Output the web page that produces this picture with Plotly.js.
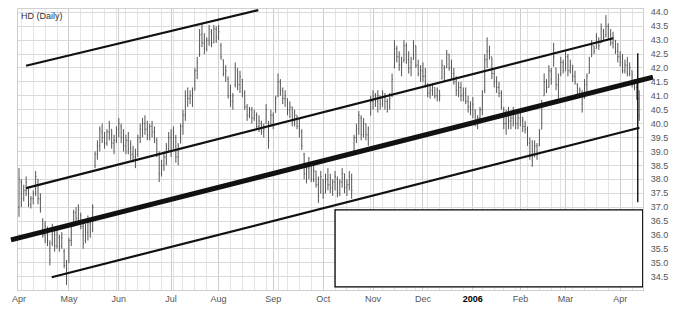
<!DOCTYPE html>
<html><head><meta charset="utf-8">
<script src="https://cdn.plot.ly/plotly-3.0.1.min.js"></script>
<style>html,body{margin:0;padding:0;background:#fff}#chart{width:682px;height:314px}</style>
</head><body><div id="chart"></div>
<script>
const startDate = '2005-04-01';
const holidays = ['2005-05-30','2005-07-04','2005-09-05','2005-11-24','2005-12-26','2006-01-02','2006-01-16','2006-02-20','2006-04-14'];
const monthLabels = ['Apr','May','Jun','Jul','Aug','Sep','Oct','Nov','Dec','<span style="color:#000"><b>2006</b></span>','Feb','Mar','Apr'];
const yTicks = [34.5,35.0,35.5,36.0,36.5,37.0,37.5,38.0,38.5,39.0,39.5,40.0,40.5,41.0,41.5,42.0,42.5,43.0,43.5,44.0];

const openP = [
37.0,37.9,37.3,37.6,37.6,37.1,37.3,37.5,38.0,37.3,
36.5,36.0,36.2,35.7,35.7,36.1,35.6,35.9,35.6,35.4,
34.9,35.0,35.8,36.3,36.8,36.6,36.7,36.3,35.8,36.1,
36.4,36.2,38.5,38.9,39.2,39.7,39.5,39.3,39.7,39.8,
39.3,39.4,39.8,39.9,39.5,39.2,39.4,39.1,38.9,38.8,
38.9,39.5,39.8,40.0,39.8,39.6,39.9,39.7,39.4,38.9,
38.2,38.5,38.8,39.1,39.5,39.1,39.5,38.8,39.3,39.9,
40.3,41.0,40.9,41.0,41.2,41.9,42.5,43.2,42.9,42.7,
43.0,43.3,42.9,43.4,43.1,42.8,42.3,41.8,41.6,41.0,
40.8,41.4,41.9,41.4,41.6,41.1,40.6,40.3,40.5,40.2,
40.3,39.9,40.0,39.7,40.0,40.0,39.9,40.3,40.4,41.0,
41.5,41.2,40.9,40.9,40.5,40.6,40.1,40.3,39.9,39.7,
38.9,38.2,38.4,38.5,38.0,38.3,37.8,37.5,38.0,37.5,
38.0,37.8,37.7,37.9,38.0,37.5,37.9,38.2,37.7,37.8,
38.0,39.0,39.5,39.8,40.2,39.6,40.0,39.6,40.3,40.8,
41.0,40.8,41.0,40.7,41.0,40.8,40.6,41.0,42.0,42.7,
42.4,42.1,42.3,42.8,42.3,42.0,42.3,42.8,42.1,41.8,
41.9,41.7,41.4,41.1,41.2,41.3,41.0,41.2,41.6,42.0,
42.0,42.5,42.0,41.8,41.5,41.2,41.3,41.0,41.1,40.8,
40.6,40.5,40.5,40.0,40.2,40.5,41.2,42.3,42.6,42.4,
41.8,41.5,41.3,41.1,40.5,40.0,40.3,40.1,40.2,40.4,
40.0,40.2,40.1,39.9,39.8,39.3,38.9,38.8,39.2,39.2,
39.8,41.0,41.5,41.3,41.9,42.1,42.0,41.4,41.8,42.2,
41.9,42.4,41.9,42.1,41.7,41.4,41.1,41.1,40.9,41.4,
41.8,42.4,42.8,42.7,43.0,42.9,43.3,43.2,43.5,43.2,
42.9,43.0,42.6,42.4,42.2,41.9,42.1,41.8,41.9,41.4,
41.3,40.9];
const highP = [
38.4,38.0,37.8,38.1,37.7,37.4,37.6,38.3,38.0,37.5,
36.6,36.5,36.3,35.8,36.4,36.3,36.2,36.0,36.1,35.5,
35.1,35.9,36.3,36.9,37.0,37.1,36.8,36.5,36.4,36.7,
36.6,37.1,39.0,39.4,39.9,40.0,39.7,39.8,40.1,39.8,
39.6,39.9,40.2,40.0,39.8,39.6,39.7,39.4,39.2,39.1,
39.6,40.0,40.2,40.3,40.1,40.0,40.1,39.9,39.5,39.0,
38.7,39.0,39.3,39.7,39.8,39.9,39.6,39.3,40.0,40.5,
41.2,41.3,41.2,41.3,42.0,42.4,43.4,43.6,43.25,43.1,
43.55,43.4,43.55,43.5,43.55,42.9,42.3,42.1,41.7,41.4,
41.1,42.2,42.0,41.9,41.6,41.2,40.7,40.6,40.6,40.5,
40.4,40.3,40.1,40.0,40.7,40.1,40.5,40.4,41.0,41.8,
41.6,41.3,41.2,40.9,40.8,40.6,40.5,40.3,40.2,39.8,
38.95,38.6,38.8,38.6,38.5,38.3,38.1,38.3,38.0,38.2,
38.4,38.2,38.0,38.3,38.1,38.0,38.4,38.2,38.0,38.3,
38.2,39.6,40.0,40.45,40.3,40.2,40.0,39.9,41.0,41.2,
41.1,41.2,41.0,41.2,41.1,40.9,41.1,41.8,43.0,42.8,
42.6,42.4,43.0,42.9,42.6,42.4,43.0,42.8,42.3,42.1,
42.2,42.0,41.45,41.4,41.45,41.3,41.3,41.2,42.3,42.1,
42.65,42.5,42.3,42.0,41.7,41.5,41.5,41.3,41.3,41.0,
40.8,40.95,40.5,40.3,40.6,41.2,42.5,43.1,42.8,42.4,
42.0,41.7,41.5,41.2,40.6,40.5,40.6,40.4,40.6,40.5,
40.4,40.5,40.25,40.1,39.9,39.5,39.4,39.4,39.3,39.8,
40.85,41.8,41.6,42.1,42.0,42.9,42.0,41.8,42.4,42.3,
42.6,42.5,42.3,42.1,41.9,41.45,41.3,41.2,41.6,41.8,
42.4,43.0,42.8,43.25,43.1,43.6,43.4,43.9,43.6,43.4,
43.3,43.0,42.9,42.6,42.5,42.3,42.4,42.2,41.9,41.6,
41.45,41.2];
const lowP = [
36.65,37.0,37.2,37.4,37.0,36.95,37.1,37.4,37.1,36.8,
35.9,35.7,35.6,34.9,35.6,35.4,35.5,35.4,35.5,34.8,
34.2,35.0,35.6,36.3,36.4,36.5,36.2,35.5,35.7,35.8,
35.9,36.1,38.4,38.7,39.0,39.3,39.1,39.2,39.4,39.1,
38.9,39.3,39.5,39.3,39.0,38.9,38.9,38.7,38.6,38.4,
38.8,39.3,39.5,39.6,39.4,39.4,39.5,39.3,38.8,37.9,
38.1,38.3,38.5,39.0,38.8,39.1,38.6,38.5,39.3,39.6,
40.1,40.6,40.7,40.6,41.2,41.6,42.4,42.75,42.5,42.6,
42.8,42.75,42.9,42.9,43.0,42.3,41.7,41.5,40.9,40.6,
40.5,41.3,41.2,41.1,40.95,40.5,40.1,40.2,40.0,40.1,
39.8,39.7,39.6,39.5,40.0,39.1,39.9,39.8,40.4,40.95,
41.0,40.7,40.6,40.3,40.2,39.9,39.9,39.8,39.5,39.05,
38.0,37.85,38.0,37.9,37.9,37.7,37.15,37.5,37.3,37.5,
37.6,37.5,37.4,37.6,37.35,37.4,37.7,37.5,37.4,37.6,
37.3,38.9,39.3,39.6,39.4,39.5,39.4,39.2,40.3,40.5,
40.6,40.4,40.5,40.6,40.5,40.4,40.5,40.95,42.0,42.2,
41.9,41.7,42.2,42.15,41.8,41.7,42.3,42.0,41.7,41.5,
41.5,41.3,40.95,40.9,41.0,40.9,40.8,40.8,41.6,41.55,
42.0,41.9,41.6,41.4,41.0,40.95,40.8,40.8,40.7,40.4,
40.3,40.2,39.9,39.8,40.0,40.3,41.1,42.0,42.3,41.6,
41.3,41.1,40.95,40.5,39.8,39.6,39.8,39.8,39.9,39.8,
39.8,39.9,39.7,39.65,39.2,38.7,38.45,38.8,38.7,39.2,
39.8,41.0,41.1,41.3,41.4,42.05,41.2,40.9,41.7,41.8,
41.9,41.7,41.8,41.5,41.4,40.95,41.0,40.4,40.9,41.1,
41.8,42.4,42.5,42.7,42.65,42.9,43.0,43.1,43.0,42.8,
42.7,42.5,42.2,42.05,41.8,41.8,41.7,41.7,41.3,41.2,
40.85,40.1];
const closeP = [
38.0,37.3,37.6,37.9,37.1,37.3,37.5,38.1,37.3,36.9,
36.0,36.3,35.8,35.1,36.2,35.6,36.0,35.6,35.9,34.9,
34.8,35.8,36.1,36.8,36.6,36.9,36.3,35.7,36.2,36.5,
36.1,37.0,38.9,39.2,39.8,39.5,39.3,39.7,39.9,39.3,
39.4,39.8,40.0,39.5,39.2,39.4,39.1,38.9,38.8,38.9,
39.5,39.8,40.0,39.8,39.6,39.9,39.7,39.4,38.9,38.2,
38.5,38.8,39.1,39.5,39.0,39.7,38.8,39.2,39.9,40.3,
41.0,40.9,41.0,41.1,41.9,42.2,43.2,42.9,42.7,43.0,
43.4,42.9,43.4,43.1,43.3,42.4,41.8,41.9,41.0,40.8,
41.0,42.0,41.4,41.7,41.1,40.6,40.3,40.5,40.2,40.4,
39.9,40.1,39.7,39.8,40.5,39.4,40.3,40.1,40.9,41.5,
41.2,40.9,41.0,40.5,40.6,40.1,40.3,39.9,39.7,39.2,
38.2,38.4,38.5,38.0,38.3,37.8,37.4,38.1,37.5,38.0,
37.8,37.7,37.9,38.1,37.5,37.9,38.2,37.7,37.8,38.1,
37.6,39.5,39.8,40.3,39.6,40.0,39.6,39.8,40.8,41.0,
40.8,41.0,40.7,41.1,40.8,40.6,40.9,41.6,42.7,42.4,
42.1,42.2,42.8,42.3,42.0,42.2,42.8,42.1,41.8,41.9,
41.7,41.4,41.1,41.2,41.3,41.0,41.2,41.0,42.1,41.8,
42.5,42.0,41.8,41.5,41.2,41.3,41.0,41.1,40.8,40.6,
40.5,40.7,40.0,40.2,40.5,41.0,42.3,42.6,42.4,41.8,
41.5,41.3,41.1,40.6,40.0,40.3,40.1,40.2,40.4,40.0,
40.2,40.1,39.9,39.8,39.3,38.9,38.8,39.2,38.9,39.7,
40.7,41.5,41.3,41.9,41.6,42.4,41.4,41.6,42.2,41.9,
42.4,41.9,42.1,41.7,41.5,41.1,41.2,40.7,41.4,41.7,
42.3,42.8,42.6,43.1,42.8,43.4,43.1,43.5,43.2,42.9,
43.1,42.6,42.4,42.2,41.9,42.1,41.8,42.0,41.4,41.3,
40.9,40.3];

// trend lines (trading-day index, price)
const trendX0 = [2.95, 2.95, -3.37, 13.76];
const trendY0 = [42.08, 37.68, 35.82, 34.48];
const trendX1 = [100.7, 250.1, 266.8, 261.1];
const trendY1 = [44.08, 43.07, 41.67, 39.85];
const markerX = 260.4, markerY0 = 37.17, markerY1 = 42.53;
const boxX0 = 133.0, boxX1 = 262.5, boxY0 = 34.13, boxY1 = 36.9;

// trading calendar
const dates = [];
(function(){
  let d = new Date(startDate + 'T00:00:00Z');
  while (dates.length < closeP.length) {
    const s = d.toISOString().slice(0,10);
    const w = d.getUTCDay();
    if (w !== 0 && w !== 6 && holidays.indexOf(s) < 0) dates.push(s);
    d = new Date(d.getTime() + 86400000);
  }
})();
const idx = dates.map((_, i) => i);
const monthIdx = [], weekIdx = [];
dates.forEach((s, i) => {
  if (i === 0 || s.slice(5,7) !== dates[i-1].slice(5,7)) monthIdx.push(i);
  const w = new Date(s + 'T00:00:00Z').getUTCDay();
  const pw = i > 0 ? new Date(dates[i-1] + 'T00:00:00Z').getUTCDay() : 9;
  if (i > 0 && w < pw && monthIdx.indexOf(i) < 0) weekIdx.push(i);
});

const xr = [-0.42, 262.6];
const yr = [34.02, 44.12];
const px = v => (v - xr[0]) / (xr[1] - xr[0]);
const py = v => (v - yr[0]) / (yr[1] - yr[0]);
const trendW = [2.2, 2.2, 5, 2.2];

const shapes = [];
shapes.push({type:'rect', xref:'x', yref:'y', x0:boxX0, x1:boxX1, y0:boxY0, y1:boxY1,
  fillcolor:'#fff', line:{color:'#000', width:1.3}, layer:'above'});
shapes.push({type:'line', xref:'x', yref:'y', x0:markerX, x1:markerX, y0:markerY0, y1:markerY1,
  line:{color:'#000', width:1.3}, layer:'above'});
for (let k = 0; k < trendX0.length; k++) {
  shapes.push({type:'line', xref:'paper', yref:'paper',
    x0:px(trendX0[k]), y0:py(trendY0[k]), x1:px(trendX1[k]), y1:py(trendY1[k]),
    line:{color:'#111', width:trendW[k]}, layer:'above'});
}

const font = 'Liberation Sans, Arial, sans-serif';
const trace = {
  type:'ohlc', x: idx, open: openP, high: highP, low: lowP, close: closeP,
  text: dates, hoverinfo:'text+y',
  increasing:{line:{color:'#555', width:1}},
  decreasing:{line:{color:'#555', width:1}},
  tickwidth: 0.3
};
const layout = {
  width:682, height:314,
  margin:{l:18, r:39, t:9, b:24},
  paper_bgcolor:'#fff', plot_bgcolor:'#fff',
  showlegend:false,
  xaxis:{
    range:xr, type:'linear', rangeslider:{visible:false},
    tickmode:'array', tickvals: monthIdx, ticktext: monthLabels,
    showgrid:true, gridcolor:'#cdcdcd', gridwidth:1,
    minor:{tickmode:'array', tickvals: weekIdx, showgrid:true, gridcolor:'#e4e4e4', gridwidth:1, ticks:''},
    zeroline:false, showline:true, linecolor:'#d0d0d0', mirror:true,
    ticks:'', tickfont:{family:font, size:9, color:'#555'}, fixedrange:true
  },
  yaxis:{
    range:yr, side:'right', tickmode:'array', tickvals:yTicks, tickformat:'.1f',
    showgrid:true, gridcolor:'#dadada', gridwidth:1,
    zeroline:false, showline:true, linecolor:'#d0d0d0', mirror:true,
    ticks:'outside', ticklen:5, tickcolor:'rgba(0,0,0,0)',
    tickfont:{family:font, size:9, color:'#555'}, fixedrange:true
  },
  shapes: shapes,
  annotations:[{text:'HD (Daily)', xref:'paper', yref:'paper', x:0, y:1, xanchor:'left', yanchor:'top',
    xshift:1, yshift:0, showarrow:false, font:{family:font, size:9, color:'#333'}}]
};
Plotly.newPlot('chart', [trace], layout, {staticPlot:true, displayModeBar:false});
</script>
</body></html>
